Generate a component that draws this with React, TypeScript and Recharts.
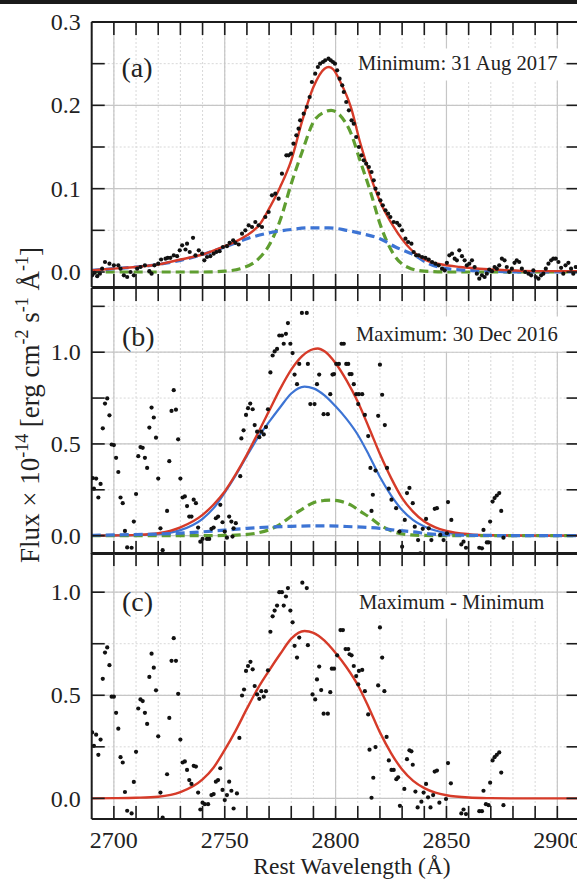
import React from "react";
import { ComposedChart, Line, Scatter, XAxis, YAxis, CartesianGrid } from "recharts";

// wavelength axis (Å)
const X_DOMAIN: [number, number] = [2690, 2910];
const xMinorTicks = [2700, 2710, 2720, 2730, 2740, 2750, 2760, 2770, 2780, 2790, 2800, 2810, 2820, 2830, 2840, 2850, 2860, 2870, 2880, 2890, 2900];
const xMajorTicks = [2700, 2750, 2800, 2850, 2900];

const yMinorA = [0, 0.05, 0.1, 0.15, 0.2, 0.25, 0.3];
const yMajorA = [0, 0.1, 0.2, 0.3];
const yMinorB = [0, 0.25, 0.5, 0.75, 1.0, 1.25];
const yMajorB = [0, 0.5, 1.0];
const yMinorC = [0, 0.25, 0.5, 0.75, 1.0];
const yMajorC = [0, 0.5, 1.0];

// fitted components [wavelength, flux]
const narrowComp: [number, number][] = [
  [2690, 0], [2740, 0], [2750, 0.001], [2757, 0.004], [2764.5, 0.014], [2770, 0.032], [2775, 0.062], [2780, 0.106],
  [2785, 0.145], [2790, 0.18], [2795, 0.192], [2798, 0.194], [2802, 0.188], [2807, 0.166], [2811, 0.134],
  [2816, 0.094], [2820, 0.058], [2826, 0.022], [2834, 0.004], [2840, 0.001], [2850, 0], [2910, 0],
];
const broadComp: [number, number][] = [
  [2690, 0.002], [2700, 0.004], [2710, 0.006], [2720, 0.009], [2730, 0.014], [2740, 0.021], [2750, 0.03],
  [2760, 0.04], [2770, 0.047], [2780, 0.051], [2788, 0.053], [2797, 0.053], [2805, 0.05], [2812, 0.046],
  [2820, 0.04], [2827, 0.03], [2835, 0.021], [2842, 0.01], [2850, 0.004], [2860, 0.002], [2870, 0.001],
  [2880, 0], [2910, 0],
];
const minTotal: [number, number][] = [
  [2690, 0.002], [2700, 0.004], [2710, 0.006], [2720, 0.009], [2730, 0.015], [2740, 0.021], [2750, 0.031],
  [2756, 0.038], [2760, 0.044], [2766, 0.058], [2770, 0.076], [2775, 0.102], [2780, 0.134], [2785, 0.182],
  [2790, 0.222], [2795, 0.244], [2797, 0.246], [2799, 0.243], [2802, 0.229], [2807, 0.197], [2811, 0.156],
  [2816, 0.113], [2820, 0.085], [2826, 0.055], [2834, 0.027], [2841, 0.014], [2848, 0.009], [2856, 0.006],
  [2871, 0.003], [2890, 0.001], [2910, 0.001],
];
const maxTotal: [number, number][] = [
  [2690, 0], [2700, 0.001], [2710, 0.004], [2720, 0.013], [2730, 0.045], [2740, 0.113], [2745, 0.17],
  [2750, 0.241], [2755, 0.335], [2760, 0.442], [2765, 0.56], [2770, 0.68], [2775, 0.8], [2780, 0.905],
  [2785, 0.98], [2790, 1.017], [2792, 1.02], [2795, 1.005], [2800, 0.94], [2805, 0.845], [2810, 0.73],
  [2815, 0.59], [2820, 0.445], [2825, 0.315], [2830, 0.205], [2835, 0.13], [2840, 0.077], [2845, 0.045],
  [2850, 0.026], [2860, 0.008], [2870, 0.002], [2880, 0.001], [2910, 0],
];
const varComp: [number, number][] = [
  [2690, 0], [2700, 0.001], [2710, 0.003], [2720, 0.008], [2730, 0.03], [2740, 0.092], [2745, 0.15],
  [2750, 0.235], [2755, 0.33], [2760, 0.435], [2765, 0.535], [2770, 0.62], [2775, 0.7], [2780, 0.775],
  [2786, 0.812], [2790, 0.803], [2795, 0.765], [2800, 0.705], [2805, 0.635], [2810, 0.55], [2815, 0.44],
  [2820, 0.32], [2825, 0.22], [2830, 0.14], [2835, 0.085], [2840, 0.05], [2845, 0.028], [2850, 0.015],
  [2860, 0.004], [2870, 0.001], [2880, 0], [2910, 0],
];

// observed spectra [wavelength, flux]
const minPoints: [number, number][] = [
  [2690.2, -0.004], [2691.3, -0.001], [2692.5, -0.005], [2693.7, -0.002], [2694.7, 0.004], [2696, 0.012], [2698, 0.01],
  [2700, 0.008], [2702, 0.008], [2703, 0.004], [2704.5, -0.004], [2706, -0.006], [2707.5, 0], [2709, -0.004],
  [2710.5, 0.004], [2712, 0.006], [2714, 0.008], [2716, 0.001], [2717, -0.002], [2718.3, 0.008], [2720, 0.01],
  [2721.3, 0.015], [2723.3, 0.016], [2724.3, 0.017], [2725.5, 0.017], [2727, 0.02], [2728.5, 0.019], [2729.7, 0.026],
  [2730.8, 0.032], [2732.3, 0.027], [2733, 0.034], [2734.2, 0.024], [2735.7, 0.041], [2736.8, 0.02], [2738.3, 0.026],
  [2739.8, 0.022], [2740.8, 0.014], [2742, 0.018], [2743.5, 0.019], [2745, 0.022], [2746.2, 0.024], [2747.7, 0.025],
  [2749.2, 0.03], [2751, 0.031], [2752.2, 0.035], [2753.8, 0.038], [2754.8, 0.035], [2756.3, 0.033], [2757.8, 0.046],
  [2759.3, 0.05], [2760.8, 0.056], [2762.3, 0.054], [2763.8, 0.06], [2765.3, 0.056], [2766.8, 0.054], [2768.3, 0.066],
  [2769.8, 0.072], [2771.3, 0.092], [2772.8, 0.094], [2774.3, 0.088], [2775.8, 0.118], [2777.8, 0.14], [2778.8, 0.14],
  [2779.9, 0.142], [2781, 0.154], [2782.3, 0.164], [2783.3, 0.172], [2784, 0.182], [2785.6, 0.19], [2787, 0.198],
  [2788.3, 0.21], [2789.3, 0.228], [2790.8, 0.238], [2792, 0.246], [2793, 0.25], [2794.3, 0.252], [2795.3, 0.254],
  [2796.8, 0.256], [2797.8, 0.254], [2798.8, 0.252], [2799.7, 0.25], [2800.7, 0.242], [2801.8, 0.232], [2803, 0.224],
  [2803.7, 0.216], [2804.8, 0.204], [2806, 0.194], [2807.2, 0.182], [2808.2, 0.178], [2809.3, 0.162], [2810.5, 0.15],
  [2811.7, 0.14], [2812.7, 0.134], [2813.8, 0.13], [2815, 0.126], [2816.2, 0.12], [2817.2, 0.11], [2818, 0.1],
  [2819.2, 0.094], [2820.2, 0.086], [2821.3, 0.08], [2822.5, 0.074], [2823.7, 0.07], [2824.7, 0.066], [2826.2, 0.06],
  [2827.7, 0.059], [2828.8, 0.056], [2830, 0.05], [2831.5, 0.04], [2832.7, 0.036], [2834.2, 0.034], [2835.2, 0.024],
  [2836.3, 0.02], [2837.5, 0.02], [2839, 0.018], [2840.5, 0.017], [2842, 0.015], [2843.5, 0.012], [2845, 0.01],
  [2846.5, 0.008], [2848, 0.004], [2849.2, 0.002], [2850.2, 0.011], [2851.3, 0.02], [2852.5, 0.022], [2853.7, 0.016],
  [2854.7, 0.014], [2855.8, 0.026], [2857, 0.019], [2858.2, 0.014], [2859.2, 0.008], [2860.3, 0.01], [2861.5, 0.014],
  [2862.7, 0.006], [2863.7, -0.002], [2864.8, -0.008], [2866, -0.004], [2867.2, -0.006], [2868.2, -0.002],
  [2869.3, 0.003], [2870.5, 0.001], [2871.7, 0.006], [2872.7, 0.004], [2873.8, 0.008], [2875, 0.016], [2876.2, 0.014],
  [2877.2, 0.006], [2878.3, 0], [2879.5, 0.004], [2880.7, 0.011], [2881.7, 0.014], [2882.8, 0.012], [2884, 0.004],
  [2885.5, 0], [2887, -0.002], [2888.2, -0.004], [2889.2, 0.002], [2890.3, -0.006], [2891.5, -0.008], [2892.7, -0.004],
  [2893.7, -0.002], [2894.8, 0.004], [2896, 0.01], [2897.2, 0.014], [2898.2, 0.016], [2899.3, 0.016], [2900.5, 0.012],
  [2901.7, 0.005], [2902.7, -0.002], [2903.7, 0.008], [2905, 0.011], [2906.2, 0.004], [2907.2, -0.002], [2908.3, 0.006],
];

const maxPoints: [number, number][] = [
  [2690.5, 0.314], [2691, 0.256], [2692, 0.311], [2693, 0.208], [2694, 0.282], [2695, 0.585], [2696, 0.72],
  [2697, 0.748], [2698, 0.656], [2699, 0.497], [2700, 0.494], [2701, 0.424], [2702, 0.347], [2703, 0.208],
  [2704, 0.177], [2705, 0.026], [2706, -0.064], [2708, -0.066], [2709, 0.077], [2710, 0.227], [2711, 0.433],
  [2712, 0.483], [2713, 0.479], [2714, 0.424], [2715, 0.369], [2716, 0.589], [2717, 0.698], [2718, 0.644],
  [2719, 0.534], [2720, 0.311], [2721, 0.04], [2722, -0.079], [2724, 0.135], [2725, 0.406], [2726, 0.68],
  [2727, 0.793], [2728, 0.687], [2729, 0.525], [2730, 0.311], [2731, 0.208], [2732, 0.214], [2733, 0.161],
  [2734, 0.104], [2735, 0.104], [2736, 0.196], [2737, 0.177], [2738, 0.044], [2739, -0.033], [2740, -0.018],
  [2742, -0.018], [2743, -0.018], [2744, 0.037], [2745, 0.044], [2746, 0.095], [2747, 0.104], [2748, 0.168],
  [2749, 0.073], [2750, 0.022], [2751, -0.011], [2752, 0.104], [2753, 0.077], [2753.5, -0.005], [2754, 0.04],
  [2755, 0.068], [2757, 0.324], [2757.5, 0.53], [2758.5, 0.574], [2759.6, 0.658], [2760.5, 0.695], [2761.5, 0.72],
  [2762.6, 0.689], [2763.5, 0.603], [2764.6, 0.567], [2765.6, 0.537], [2766.5, 0.567], [2767.6, 0.552],
  [2768.6, 0.592], [2769.5, 0.689], [2770.6, 0.89], [2771.6, 0.982], [2772.5, 1.004], [2773.6, 1.018],
  [2774.6, 1.091], [2775.8, 1.091], [2776.6, 1.046], [2777.6, 1.1], [2778.5, 1.159], [2779.6, 1.046],
  [2780.6, 0.995], [2781.5, 0.878], [2782.6, 0.826], [2783.6, 0.936], [2784.8, 1.214], [2787, 1.214],
  [2787.5, 0.936], [2788.6, 0.717], [2790.5, 0.717], [2791.6, 0.826], [2792.6, 0.878], [2794.6, 0.662],
  [2796.5, 0.662], [2797.6, 0.771], [2798.6, 0.878], [2799.3, 0.881], [2800.3, 0.936], [2801.5, 0.936],
  [2802.7, 1.046], [2803.7, 1.046], [2804.8, 0.936], [2805.7, 0.936], [2806.3, 0.881], [2807.2, 0.881],
  [2808.2, 0.826], [2809.3, 0.771], [2810.2, 0.717], [2810.5, 0.771], [2812, 0.771], [2813.2, 0.658],
  [2814.7, 0.543], [2815.7, 0.369], [2816.2, 0.135], [2816.8, 0.223], [2818, 0.355], [2819.2, 0.653],
  [2820, 0.932], [2821, 0.768], [2822.2, 0.603], [2823.2, 0.369], [2824, 0.256], [2825.2, 0.196], [2827.3, 0.15],
  [2828.8, 0.022], [2830, -0.06], [2831.2, 0.086], [2832.2, 0.232], [2833.3, 0.26], [2834.8, 0.177],
  [2835.7, 0.049], [2837.2, -0.024], [2838.2, -0.097], [2839.3, 0.037], [2840.8, 0.091], [2842, 0.04],
  [2843.2, -0.024], [2844.7, 0.146], [2845.7, 0.15], [2847.2, 0.004], [2848.7, -0.024], [2850.2, 0.013],
  [2850.7, 0.183], [2852.2, 0.086], [2856.7, -0.048], [2857.7, -0.033], [2858.8, -0.066], [2864.8, -0.066],
  [2866, -0.069], [2866.7, 0.031], [2868.2, -0.037], [2869, -0.037], [2869.7, 0.077], [2870.8, 0.186],
  [2871.7, 0.205], [2872.7, 0.219], [2873.8, 0.232], [2874.7, 0.135], [2875.7, -0.011],
];

const diffPoints: [number, number][] = [
  [2690.2, 0.32], [2691, 0.255], [2692, 0.309], [2693, 0.211], [2694, 0.285], [2695, 0.58], [2696, 0.707],
  [2697, 0.732], [2698, 0.646], [2699, 0.493], [2700, 0.493], [2701, 0.415], [2702, 0.338], [2703, 0.2],
  [2704, 0.174], [2705, 0.031], [2706, -0.06], [2708, -0.073], [2709, 0.08], [2710, 0.226], [2711, 0.436],
  [2712, 0.48], [2713, 0.472], [2714, 0.415], [2715, 0.361], [2716, 0.589], [2717, 0.702], [2718, 0.634],
  [2719, 0.524], [2720, 0.301], [2721, 0.028], [2722, -0.093], [2724, 0.117], [2725, 0.39], [2726, 0.667],
  [2727, 0.777], [2728, 0.667], [2729, 0.507], [2730, 0.285], [2731, 0.174], [2732, 0.179], [2733, 0.138],
  [2734, 0.089], [2735, 0.07], [2736, 0.158], [2737, 0.154], [2738, 0.028], [2739, -0.054], [2740, -0.021],
  [2741, -0.028], [2742.5, -0.028], [2744, 0.016], [2745, 0.021], [2746, 0.081], [2747, 0.089], [2748, 0.146],
  [2749, 0.041], [2750, -0.008], [2751, 0.016], [2752, 0.081], [2753, 0.037], [2754, -0.049], [2755.5, 0.024],
  [2756.6, 0.293], [2757.8, 0.499], [2758.7, 0.528], [2759.6, 0.618], [2760.5, 0.642], [2761.6, 0.662],
  [2762.6, 0.626], [2763.5, 0.545], [2764.6, 0.504], [2765.6, 0.483], [2766.5, 0.52], [2767.6, 0.493],
  [2768.6, 0.52], [2769.5, 0.621], [2770.6, 0.808], [2771.6, 0.883], [2772.5, 0.911], [2773.6, 0.935],
  [2774.6, 1.0], [2775.8, 1.0], [2776.6, 0.935], [2777.6, 0.979], [2778.5, 1.02], [2779.6, 0.911],
  [2780.6, 0.854], [2781.5, 0.74], [2782.6, 0.683], [2783.6, 0.78], [2785, 1.046], [2787, 1.02],
  [2787.5, 0.743], [2789.6, 0.504], [2790.8, 0.48], [2791.6, 0.577], [2792.6, 0.639], [2793.5, 0.525],
  [2794.6, 0.411], [2796.5, 0.411], [2797.6, 0.515], [2798.3, 0.629], [2799.3, 0.629], [2800.7, 0.694],
  [2802.2, 0.816], [2803.3, 0.816], [2804.5, 0.724], [2805.7, 0.724], [2806.3, 0.699], [2807.2, 0.694],
  [2808.2, 0.642], [2809.3, 0.593], [2810.2, 0.553], [2810.5, 0.618], [2812, 0.623], [2813.2, 0.52],
  [2814.7, 0.407], [2815.3, 0.236], [2816.2, 0.003], [2817, 0.1], [2818, 0.249], [2819.2, 0.548], [2820, 0.829],
  [2821, 0.683], [2822, 0.52], [2823, 0.298], [2824, 0.184], [2825.2, 0.138], [2826.2, 0.138], [2827.4, 0.093],
  [2828.2, 0.102], [2829, -0.036], [2831, 0.046], [2832.2, 0.19], [2833.3, 0.233], [2834.2, 0.228],
  [2834.8, 0.163], [2836, 0.033], [2837, -0.044], [2838.7, -0.016], [2839.7, 0.028], [2840.8, 0.07],
  [2841.7, 0.005], [2842.8, -0.044], [2844, 0.016], [2844.7, 0.13], [2845.7, 0.135], [2846.8, -0.021],
  [2849.8, -0.003], [2850.7, 0.171], [2852, 0.073], [2856.7, -0.073], [2857.7, -0.054], [2858.8, -0.076],
  [2864.8, -0.062], [2866, -0.062], [2866.7, 0.037], [2867.8, -0.028], [2869, -0.033], [2869.7, 0.076],
  [2870.8, 0.184], [2871.7, 0.2], [2872.7, 0.211], [2873.8, 0.223], [2874.7, 0.125], [2875.7, -0.033],
];

const RED = "#d63b29";
const BLUE = "#3d74d4";
const GREEN = "#5f9e30";
const INK = "#1c1c1c";
const SERIF = "'Liberation Serif', 'Times New Roman', Times, serif";
const TICK_LEN = 13;

const toPts = (arr: [number, number][]) => arr.map(([x, y]) => ({ x, y }));

const dot = (p: any) => <circle cx={p.cx} cy={p.cy} r={2.1} fill="#111" />;

const curve = (key: string, data: [number, number][], color: string, width: number, dashed = false) => (
  <Line
    key={key}
    xAxisId="x"
    yAxisId="y"
    data={toPts(data)}
    dataKey="y"
    type="monotone"
    stroke={color}
    strokeWidth={width}
    strokeDasharray={dashed ? "9 5" : undefined}
    dot={false}
    activeDot={false}
    isAnimationActive={false}
  />
);

const points = (key: string, data: [number, number][]) => (
  <Scatter key={key} xAxisId="x" yAxisId="y" data={toPts(data)} dataKey="y" shape={dot} isAnimationActive={false} />
);

// inward tick marks (and labels where wanted) drawn from the axis position recharts hands over
const font = { fontFamily: SERIF, fontSize: 24, fill: "#222" };
const tickStroke = { stroke: INK, strokeWidth: 1.6 };

const leftTick = (major: number[]) => (p: any) => {
  const v = p.payload.value;
  return (
    <g>
      <line x1={p.x} x2={p.x + TICK_LEN} y1={p.y} y2={p.y} {...tickStroke} />
      {major.includes(v) && (
        <text x={p.x - 11} y={p.y} dy="0.34em" textAnchor="end" {...font}>{v.toFixed(1)}</text>
      )}
    </g>
  );
};
const rightTick = (p: any) => <line x1={p.x - TICK_LEN} x2={p.x} y1={p.y} y2={p.y} {...tickStroke} />;
const topTick = (p: any) => <line x1={p.x} x2={p.x} y1={p.y} y2={p.y + TICK_LEN} {...tickStroke} />;
const bottomTick = (labels: boolean) => (p: any) => {
  const v = p.payload.value;
  return (
    <g>
      <line x1={p.x} x2={p.x} y1={p.y - TICK_LEN} y2={p.y} {...tickStroke} />
      {labels && xMajorTicks.includes(v) && (
        <text x={p.x} y={p.y + 12} dy="0.7em" textAnchor="middle" {...font}>{v}</text>
      )}
    </g>
  );
};

interface PanelProps {
  top: number;
  height: number;
  margin: { top: number; right: number; bottom: number; left: number };
  yDomain: [number, number];
  yMinor: number[];
  yMajor: number[];
  xLabels?: boolean;
  series: React.ReactNode[];
}

const frame = { stroke: INK, strokeWidth: 2 };

function Panel({ top, height, margin, yDomain, yMinor, yMajor, xLabels = false, series }: PanelProps) {
  return (
    <div style={{ position: "absolute", left: 0, top }}>
      <ComposedChart width={600} height={height} margin={margin}>
        <CartesianGrid xAxisId="x" yAxisId="y" stroke="#d8d8d8" strokeDasharray="2 2" />
        <CartesianGrid xAxisId="x" yAxisId="y" stroke="#c6c6c6" strokeWidth={1.2}
          verticalValues={xMajorTicks} horizontalValues={yMajor} />
        <XAxis xAxisId="x" dataKey="x" type="number" domain={X_DOMAIN} allowDataOverflow ticks={xMinorTicks}
          interval={0} orientation="bottom" height={xLabels ? 41 : 1} tickSize={0} tickMargin={0}
          tick={bottomTick(xLabels)} tickLine={false} axisLine={frame} />
        <XAxis xAxisId="xTop" dataKey="x" type="number" domain={X_DOMAIN} allowDataOverflow ticks={xMinorTicks}
          interval={0} orientation="top" height={1} tickSize={0} tickMargin={0}
          tick={topTick} tickLine={false} axisLine={frame} />
        <YAxis yAxisId="y" dataKey="y" type="number" domain={yDomain} allowDataOverflow ticks={yMinor}
          interval={0} orientation="left" width={91.7} tickSize={0} tickMargin={0}
          tick={leftTick(yMajor)} tickLine={false} axisLine={frame} />
        <YAxis yAxisId="yR" dataKey="y" type="number" domain={yDomain} allowDataOverflow ticks={yMinor}
          interval={0} orientation="right" width={1} tickSize={0} tickMargin={0}
          tick={rightTick} tickLine={false} axisLine={frame} />
        {series}
      </ComposedChart>
    </div>
  );
}

export default function App() {
  const text = { fontFamily: SERIF, fill: "#222" };
  return (
    <div style={{ position: "relative", width: 577, height: 880, overflow: "hidden", background: "#fff", fontFamily: SERIF }}>
      <style>{"body{margin:0}"}</style>
      <Panel
        top={0}
        height={297}
        margin={{ top: 21, right: 19.5, bottom: 9, left: 0 }}
        yDomain={[-0.018, 0.3]}
        yMinor={yMinorA}
        yMajor={yMajorA}
        series={[
          curve("a-narrow", narrowComp, GREEN, 3.2, true),
          curve("a-broad", broadComp, BLUE, 3.2, true),
          curve("a-total", minTotal, RED, 2.4),
          points("a-pts", minPoints),
        ]}
      />
      <Panel
        top={278}
        height={286}
        margin={{ top: 9, right: 19.5, bottom: 9, left: 0 }}
        yDomain={[-0.1, 1.35]}
        yMinor={yMinorB}
        yMajor={yMajorB}
        series={[
          curve("b-var", varComp, BLUE, 2.2),
          curve("b-total", maxTotal, RED, 2.4),
          curve("b-narrow", narrowComp, GREEN, 3.2, true),
          curve("b-broad", broadComp, BLUE, 3.2, true),
          points("b-pts", maxPoints),
        ]}
      />
      <Panel
        top={543}
        height={337}
        margin={{ top: 9, right: 19.5, bottom: 20, left: 0 }}
        yDomain={[-0.1, 1.19]}
        yMinor={yMinorC}
        yMajor={yMajorC}
        xLabels
        series={[curve("c-var", varComp, RED, 2.4), points("c-pts", diffPoints)]}
      />
      <div style={{ position: "absolute", left: 0, top: 0, width: 577, height: 4, background: "#1a1a1a" }} />
      <svg width={577} height={880} style={{ position: "absolute", left: 0, top: 0, pointerEvents: "none" }}>
        {/* white boxes behind the date annotations, as in the original */}
        <rect x={353} y={48.5} width={210} height={32} fill="#fff" />
        <rect x={351} y={316.5} width={211} height={35} fill="#fff" />
        <rect x={354} y={594.5} width={196} height={24} fill="#fff" />
        <text x={121.5} y={77} fontSize={28} {...text}>(a)</text>
        <text x={122} y={346} fontSize={28} {...text}>(b)</text>
        <text x={122} y={611} fontSize={28} {...text}>(c)</text>
        <text x={358} y={69.5} fontSize={20.6} {...text}>Minimum: 31 Aug 2017</text>
        <text x={356} y={340.5} fontSize={20.6} {...text}>Maximum: 30 Dec 2016</text>
        <text x={359} y={608.5} fontSize={20.6} {...text}>Maximum - Minimum</text>
        <text x={352} y={874} fontSize={23.5} textAnchor="middle" {...text}>Rest Wavelength (Å)</text>
        <text x={39} y={405} fontSize={27} textAnchor="middle" transform="rotate(-90 39 405)" {...text}>
          Flux × 10<tspan fontSize={18} dy={-11}>-14</tspan>
          <tspan dy={11}> [erg cm</tspan>
          <tspan fontSize={18} dy={-11}>-2</tspan>
          <tspan dy={11}> s</tspan>
          <tspan fontSize={18} dy={-11}>-1</tspan>
          <tspan dy={11}> Å</tspan>
          <tspan fontSize={18} dy={-11}>-1</tspan>
          <tspan dy={11}>]</tspan>
        </text>
      </svg>
    </div>
  );
}
